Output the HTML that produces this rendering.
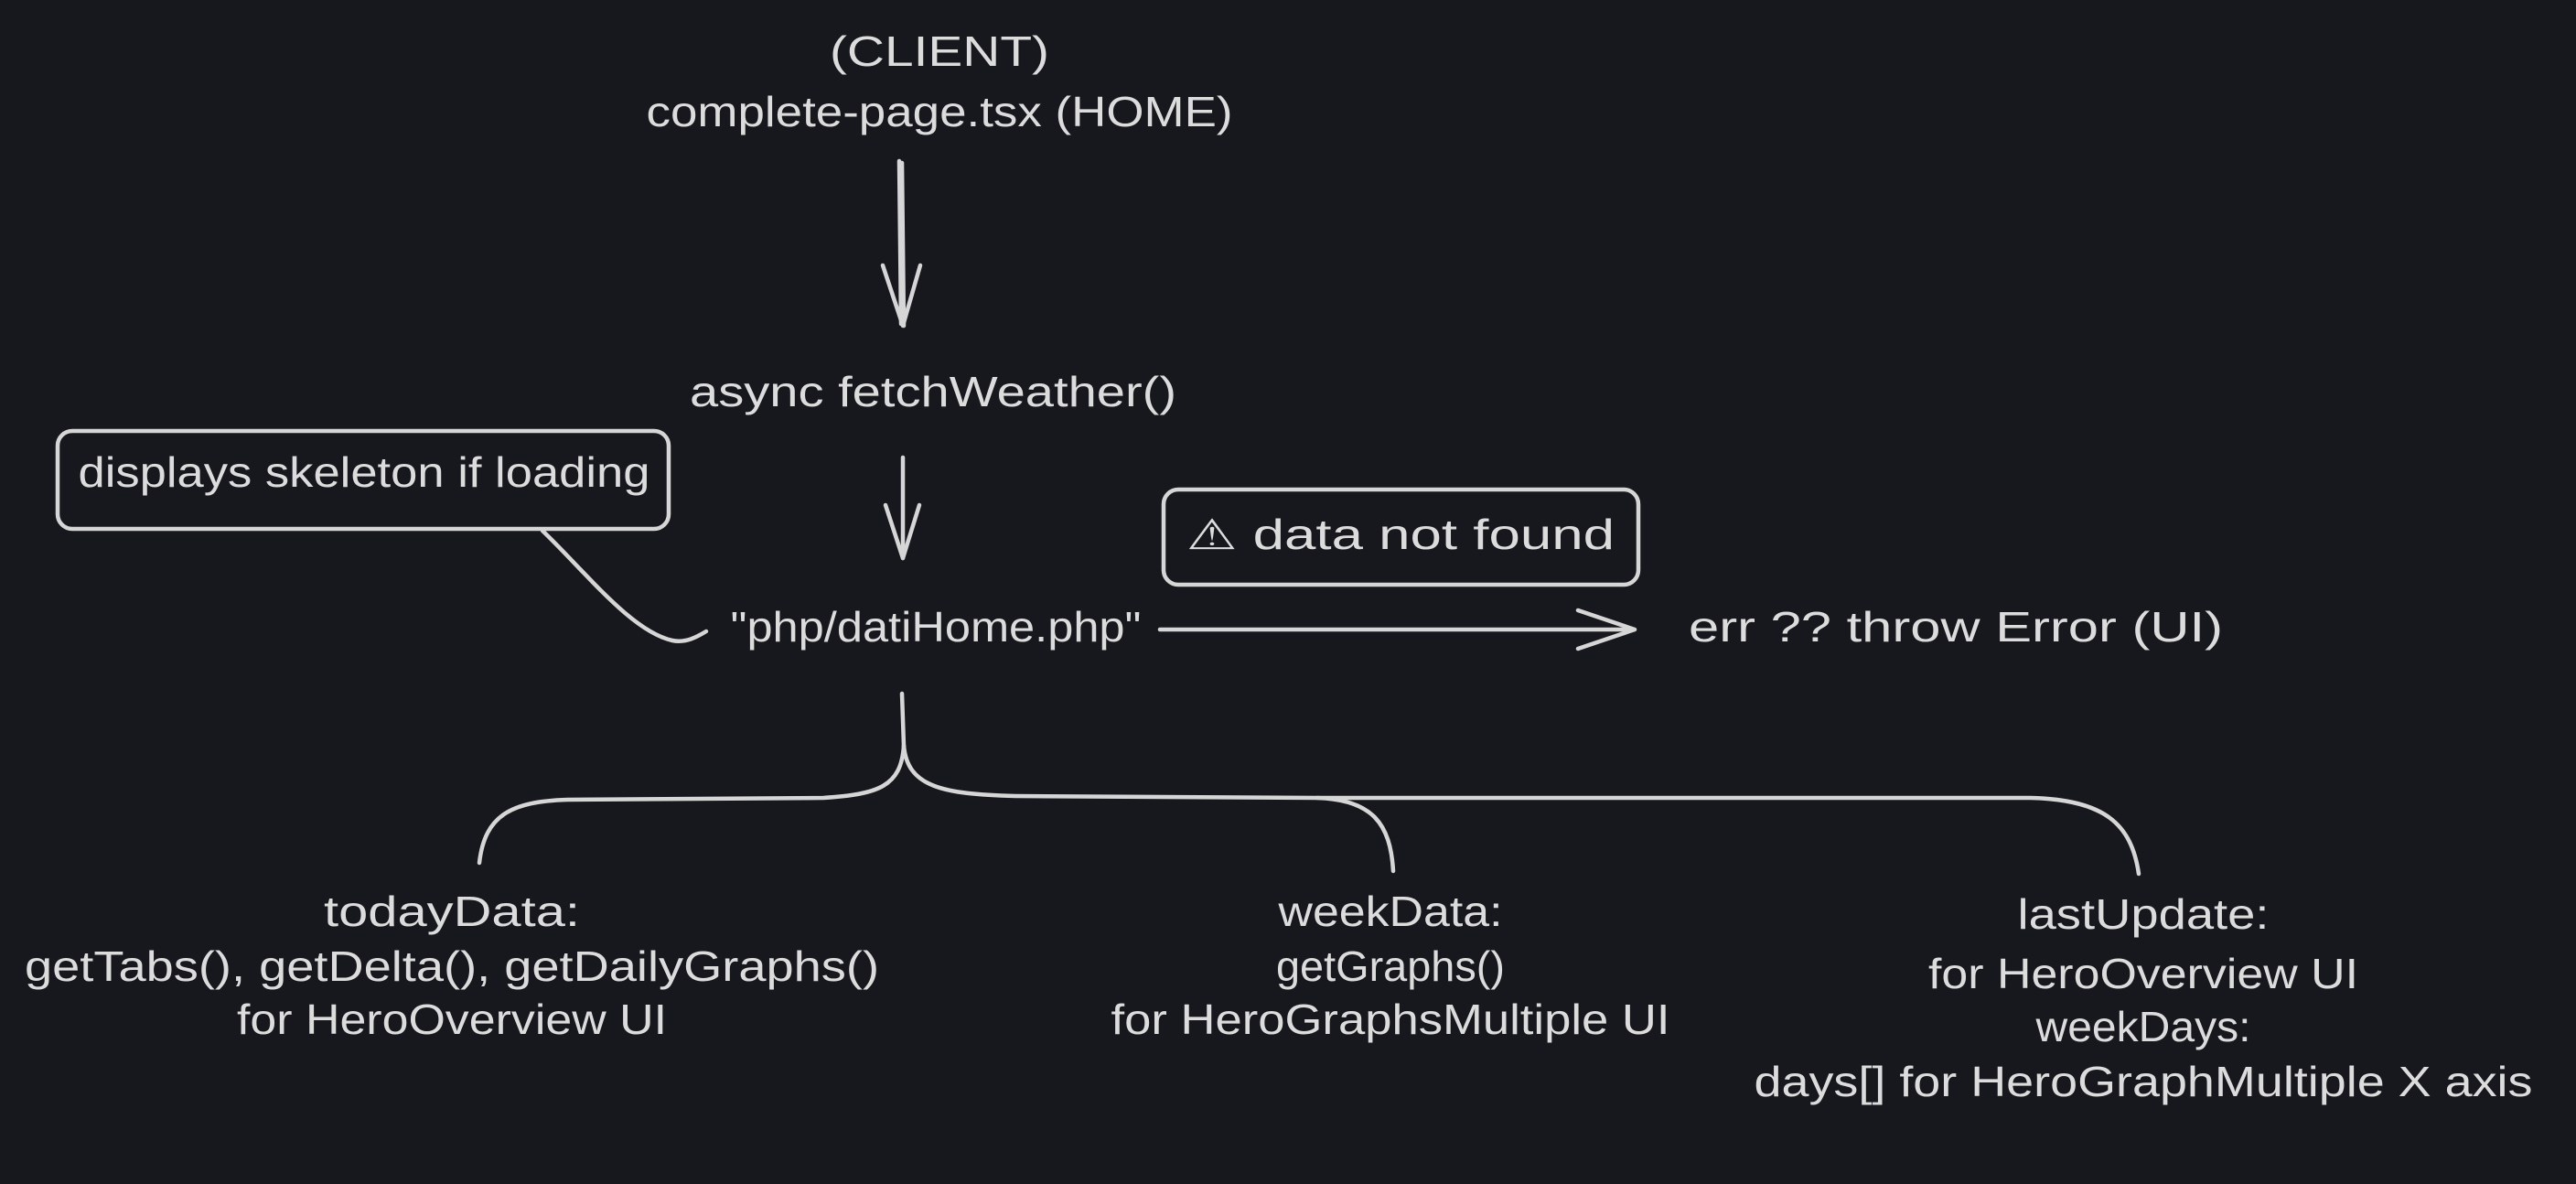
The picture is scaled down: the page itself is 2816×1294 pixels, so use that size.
<!DOCTYPE html>
<html><head><meta charset="utf-8"><style>
html,body{margin:0;padding:0;background:#16181d;}
svg{display:block}
text{font-family:"Liberation Sans","DejaVu Sans",sans-serif;fill:#dcdcdc;font-size:46px;}
</style></head><body>
<svg width="2816" height="1294" viewBox="0 0 2816 1294" xmlns="http://www.w3.org/2000/svg">
<rect width="2816" height="1294" fill="#16181d"/>
<g stroke="#d6d6d6" stroke-width="4.5" fill="none" stroke-linecap="round" stroke-linejoin="round">
  <path d="M986 178 L988 356 M983 176 L985 354"/>
  <path d="M965 290 L987 356 L1006 290"/>
  <path d="M987 500 L987 610"/>
  <path d="M968 552 L987 610 L1005 552"/>
  <rect x="63" y="471" width="668" height="107" rx="16"/>
  <path d="M593 580 C640 625 690 690 735 700 C750 703 762 696 772 690"/>
  <path d="M1268 688 L1785 688"/>
  <path d="M1725 667 L1787 688 L1725 709"/>
  <rect x="1272" y="535" width="519" height="104" rx="16"/>
  <path d="M986 758 L988 815"/>
  <path d="M988 815 C985 860 960 868 900 872 L620 874 C560 876 530 890 524 943"/>
  <path d="M988 815 C992 860 1030 868 1110 870 L1440 872 C1500 874 1520 900 1523 952"/>
  <path d="M1440 872 L2220 872 C2300 874 2330 900 2338 955"/>
</g>
<g text-anchor="middle">
  <text x="1027" y="72" textLength="240" lengthAdjust="spacingAndGlyphs">(CLIENT)</text>
  <text x="1027" y="138" textLength="641" lengthAdjust="spacingAndGlyphs">complete-page.tsx (HOME)</text>
  <text x="1020" y="444" textLength="532" lengthAdjust="spacingAndGlyphs">async fetchWeather()</text>
  <text x="398" y="532" textLength="625" lengthAdjust="spacingAndGlyphs">displays skeleton if loading</text>
  <text x="1531" y="600" textLength="468" lengthAdjust="spacingAndGlyphs">⚠ data not found</text>
  <text x="1023" y="701" textLength="449" lengthAdjust="spacingAndGlyphs">"php/datiHome.php"</text>
  <text x="2138" y="701" textLength="584" lengthAdjust="spacingAndGlyphs">err ?? throw Error (UI)</text>

  <text x="494" y="1012" textLength="280" lengthAdjust="spacingAndGlyphs">todayData:</text>
  <text x="494" y="1072" textLength="934" lengthAdjust="spacingAndGlyphs">getTabs(), getDelta(), getDailyGraphs()</text>
  <text x="494" y="1130" textLength="470" lengthAdjust="spacingAndGlyphs">for HeroOverview UI</text>

  <text x="1520" y="1012" textLength="245" lengthAdjust="spacingAndGlyphs">weekData:</text>
  <text x="1520" y="1072" textLength="250" lengthAdjust="spacingAndGlyphs">getGraphs()</text>
  <text x="1520" y="1130" textLength="611" lengthAdjust="spacingAndGlyphs">for HeroGraphsMultiple UI</text>

  <text x="2343" y="1015" textLength="275" lengthAdjust="spacingAndGlyphs">lastUpdate:</text>
  <text x="2343" y="1080" textLength="470" lengthAdjust="spacingAndGlyphs">for HeroOverview UI</text>
  <text x="2343" y="1138" textLength="235" lengthAdjust="spacingAndGlyphs">weekDays:</text>
  <text x="2343" y="1198" textLength="851" lengthAdjust="spacingAndGlyphs">days[] for HeroGraphMultiple X axis</text>
</g>
</svg>
</body></html>
